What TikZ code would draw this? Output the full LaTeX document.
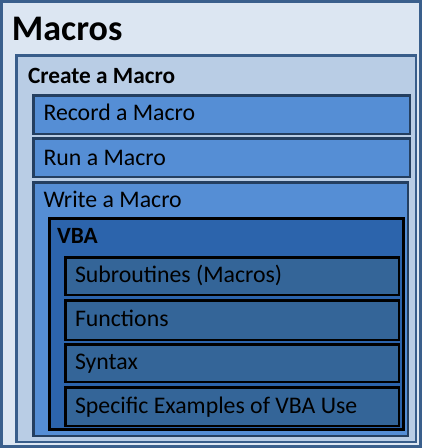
\documentclass[tikz,border=0pt]{standalone}
\usepackage{fontspec}
\setmainfont{Carlito}
\definecolor{outerfill}{HTML}{DCE6F2}
\definecolor{outerdraw}{HTML}{3A5F8C}
\definecolor{createfill}{HTML}{B9CDE5}
\definecolor{createdraw}{HTML}{385D8A}
\definecolor{recfill}{HTML}{558ED5}
\definecolor{recdraw}{HTML}{243F60}
\definecolor{vbafill}{HTML}{2C64AC}
\definecolor{innerfill}{HTML}{346598}
\tikzset{
  boxbase/.style={rectangle, inner sep=0pt, outer sep=0pt},
  outerbox/.style={boxbase, fill=outerfill, draw=outerdraw, line width=3pt},
  createbox/.style={boxbase, fill=createfill, draw=createdraw, line width=2.5pt},
  levelbox/.style={boxbase, fill=recfill, draw=recdraw, line width=2.5pt},
  vbabox/.style={boxbase, fill=vbafill, draw=black, line width=3pt},
  innerbox/.style={boxbase, fill=innerfill, draw=black, line width=2.5pt},
  lbl/.style={anchor=base west, inner sep=0pt, outer sep=0pt, font=\fontsize{23.8}{26}\selectfont},
  boldlbl/.style={anchor=base west, inner sep=0pt, outer sep=0pt, font=\fontsize{23.3}{26}\selectfont\bfseries},
  titlelbl/.style={anchor=base west, inner sep=0pt, outer sep=0pt, font=\fontsize{36}{40}\selectfont\bfseries}
}
\begin{document}
\begin{tikzpicture}[x=1pt, y=-1pt]
\useasboundingbox (0,0) rectangle (422,448);
% boxes
\node[outerbox, minimum width=419pt, minimum height=445pt] (outer) at (211,224) {};
\node[createbox, minimum width=399.5pt, minimum height=386.5pt] (create) at (216,248.5) {};
\node[levelbox, minimum width=376.5pt, minimum height=38.5pt] (record) at (221.5,114.5) {};
\node[levelbox, minimum width=376.5pt, minimum height=38.5pt] (run) at (221.5,157.5) {};
\node[levelbox, minimum width=374.5pt, minimum height=253.5pt] (write) at (220.5,309) {};
\node[vbabox, minimum width=354pt, minimum height=211pt] (vba) at (226.5,324) {};
\node[innerbox, minimum width=333.5pt, minimum height=37.5pt] (sub) at (232,276) {};
\node[innerbox, minimum width=333.5pt, minimum height=39.5pt] (func) at (232,320) {};
\node[innerbox, minimum width=333.5pt, minimum height=37.5pt] (syn) at (232,363) {};
\node[innerbox, minimum width=333.5pt, minimum height=38.5pt] (spec) at (232,406.5) {};
% labels
\node[titlelbl] (tmacros) at (12,40) {Macros};
\node[boldlbl] (tcreate) at (28,83) {Create a Macro};
\node[lbl] (trecord) at (43.5,120) {Record a Macro};
\node[lbl] (trun) at (43.5,165) {Run a Macro};
\node[lbl] (twrite) at (43.5,207) {Write a Macro};
\node[boldlbl] (tvba) at (57,243) {VBA};
\node[lbl] (tsub) at (75,282) {Subroutines (Macros)};
\node[lbl] (tfunc) at (75,326) {Functions};
\node[lbl] (tsyn) at (75,369) {Syntax};
\node[lbl] (tspec) at (75,413) {Specific Examples of VBA Use};
\end{tikzpicture}
\end{document}
